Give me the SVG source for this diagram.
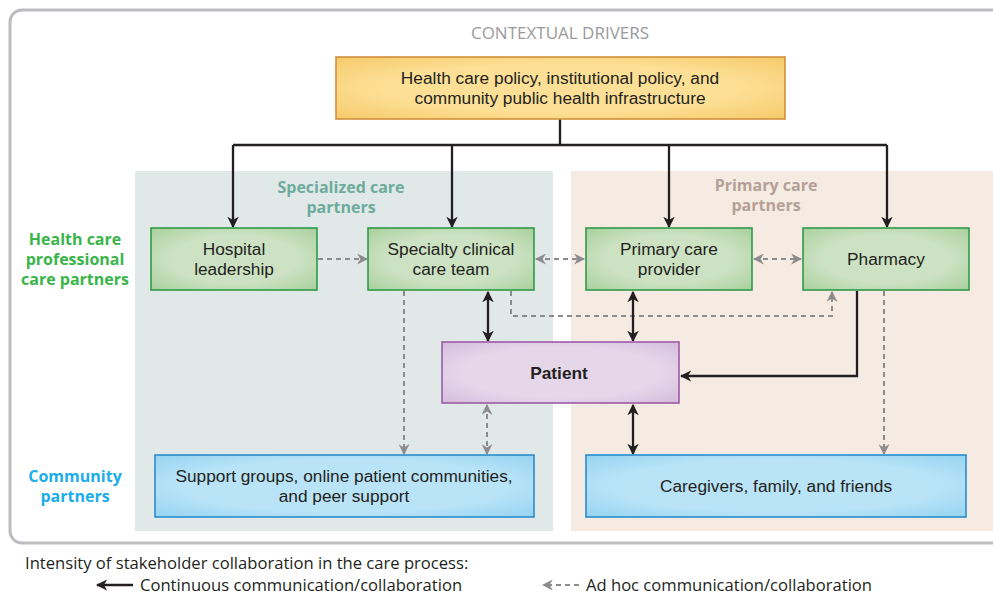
<svg xmlns="http://www.w3.org/2000/svg" width="993" height="595" viewBox="0 0 993 595">
  <defs>
    <style>
      text { font-family: "Open Sans", "Liberation Sans", sans-serif; }
      .node text { font-family: "Liberation Sans", Arial, sans-serif; font-size: 17.3px; fill: #231f20; text-anchor: middle; }
      .green rect { fill: url(#gGreen); stroke: #2f9a48; stroke-width: 1.6; }
      .blue rect { fill: url(#gBlue); stroke: #2a8ccf; stroke-width: 1.6; }
      .solid { fill: none; stroke: #231f20; stroke-width: 2.3; }
      .dash { fill: none; stroke: #8c8c8f; stroke-width: 2; stroke-dasharray: 5 4; }
      .region-label { font-size: 16px; font-weight: bold; text-anchor: middle; }
      .side-label { font-size: 16px; font-weight: bold; text-anchor: middle; }
      .legend { font-size: 16.6px; fill: #231f20; }
    </style>
    <radialGradient id="gGreen" cx="50%" cy="50%" r="70%">
      <stop offset="0.55" stop-color="#cce2c3"/>
      <stop offset="1" stop-color="#a9d09d"/>
    </radialGradient>
    <radialGradient id="gBlue" cx="50%" cy="50%" r="70%">
      <stop offset="0.6" stop-color="#b9e4f8"/>
      <stop offset="1" stop-color="#96d3f0"/>
    </radialGradient>
    <radialGradient id="gOrange" cx="50%" cy="50%" r="70%">
      <stop offset="0.55" stop-color="#fde095"/>
      <stop offset="1" stop-color="#f6c96c"/>
    </radialGradient>
    <radialGradient id="gPurple" cx="50%" cy="50%" r="70%">
      <stop offset="0.6" stop-color="#e6d6ea"/>
      <stop offset="1" stop-color="#d4bcdc"/>
    </radialGradient>
    <marker id="ahBlack" viewBox="0 0 10 10" refX="9" refY="5" markerWidth="5" markerHeight="5" orient="auto-start-reverse" markerUnits="strokeWidth">
      <path d="M0,0 L10,5 L0,10 L3,5 Z" fill="#231f20"/>
    </marker>
    <marker id="ahGrey" viewBox="0 0 10 10" refX="9" refY="5" markerWidth="5.5" markerHeight="5.5" orient="auto-start-reverse" markerUnits="strokeWidth">
      <path d="M0,0 L10,5 L0,10 L3,5 Z" fill="#8c8c8f"/>
    </marker>
  </defs>

  <rect width="993" height="595" fill="#ffffff"/>

  <!-- outer frame -->
  <rect x="10" y="10" width="1010" height="533" rx="12" ry="12" fill="none" stroke="#bdbdc1" stroke-width="3"/>

  <!-- partner regions -->
  <rect x="135" y="171" width="418" height="360" fill="#e0e9e7"/>
  <rect x="571" y="171" width="422" height="360" fill="#f6ebe2"/>

  <text x="560" y="39" font-size="17" fill="#9a9a9d" text-anchor="middle">CONTEXTUAL DRIVERS</text>
  <text class="region-label" fill="#6eab9e"><tspan x="341" y="193">Specialized care</tspan><tspan x="341" y="213">partners</tspan></text>
  <text class="region-label" fill="#b3a197"><tspan x="766" y="191">Primary care</tspan><tspan x="766" y="211">partners</tspan></text>
  <text class="side-label" fill="#3ab54a"><tspan x="75" y="245">Health care</tspan><tspan x="75" y="265">professional</tspan><tspan x="75" y="285">care partners</tspan></text>
  <text class="side-label" fill="#1badea"><tspan x="75" y="482">Community</tspan><tspan x="75" y="502">partners</tspan></text>

  <!-- connectors -->
  <g id="connectors">
    <!-- policy drivers to professional partners -->
    <path class="solid" d="M560,119 V145"/>
    <path class="solid" d="M233,145 H887"/>
    <path class="solid" d="M233,145 V227" marker-end="url(#ahBlack)"/>
    <path class="solid" d="M452,145 V227" marker-end="url(#ahBlack)"/>
    <path class="solid" d="M669,145 V227" marker-end="url(#ahBlack)"/>
    <path class="solid" d="M887,145 V227" marker-end="url(#ahBlack)"/>

    <!-- ad hoc links -->
    <path class="dash" d="M318,259 H367" marker-end="url(#ahGrey)"/>
    <path class="dash" d="M536,259 H584" marker-start="url(#ahGrey)" marker-end="url(#ahGrey)"/>
    <path class="dash" d="M754,259 H801" marker-start="url(#ahGrey)" marker-end="url(#ahGrey)"/>
    <path class="dash" d="M404,291 V454" marker-end="url(#ahGrey)"/>
    <path class="dash" d="M511,291 V316 H832 V292" marker-end="url(#ahGrey)"/>
    <path class="dash" d="M884,291 V454" marker-end="url(#ahGrey)"/>
    <path class="dash" d="M487,405 V454" marker-start="url(#ahGrey)" marker-end="url(#ahGrey)"/>

    <!-- continuous links -->
    <path class="solid" d="M488,292 V341" marker-start="url(#ahBlack)" marker-end="url(#ahBlack)"/>
    <path class="solid" d="M633,292 V341" marker-start="url(#ahBlack)" marker-end="url(#ahBlack)"/>
    <path class="solid" d="M857,291 V376 H681" marker-end="url(#ahBlack)"/>
    <path class="solid" d="M633,405 V454" marker-start="url(#ahBlack)" marker-end="url(#ahBlack)"/>
  </g>

  <!-- nodes -->
  <g id="policy" class="node">
    <rect x="336" y="57" width="449" height="62" fill="url(#gOrange)" stroke="#d0913b" stroke-width="1.6"/>
    <text><tspan x="560" y="84">Health care policy, institutional policy, and</tspan><tspan x="560" y="104">community public health infrastructure</tspan></text>
  </g>
  <g id="hospital" class="node green">
    <rect x="151" y="228" width="166" height="62"/>
    <text><tspan x="234" y="255">Hospital</tspan><tspan x="234" y="275">leadership</tspan></text>
  </g>
  <g id="specialty" class="node green">
    <rect x="368" y="228" width="166" height="62"/>
    <text><tspan x="451" y="255">Specialty clinical</tspan><tspan x="451" y="275">care team</tspan></text>
  </g>
  <g id="primary" class="node green">
    <rect x="586" y="228" width="166" height="62"/>
    <text><tspan x="669" y="255">Primary care</tspan><tspan x="669" y="275">provider</tspan></text>
  </g>
  <g id="pharmacy" class="node green">
    <rect x="803" y="228" width="166" height="62"/>
    <text x="886" y="265">Pharmacy</text>
  </g>
  <g id="patient" class="node">
    <rect x="442" y="342" width="237" height="61" fill="url(#gPurple)" stroke="#9d5ba8" stroke-width="1.6"/>
    <text x="559" y="379" font-family="Open Sans, Liberation Sans, sans-serif" font-size="21.5" font-weight="bold">Patient</text>
  </g>
  <g id="support" class="node blue">
    <rect x="155" y="455" width="379" height="62"/>
    <text><tspan x="344" y="482">Support groups, online patient communities,</tspan><tspan x="344" y="502">and peer support</tspan></text>
  </g>
  <g id="caregivers" class="node blue">
    <rect x="586" y="455" width="380" height="62"/>
    <text x="776" y="492">Caregivers, family, and friends</text>
  </g>

  <!-- legend -->
  <g id="legend">
    <text class="legend" x="25" y="569">Intensity of stakeholder collaboration in the care process:</text>
    <path class="solid" d="M133,585 H97" marker-end="url(#ahBlack)"/>
    <text class="legend" x="140" y="591">Continuous communication/collaboration</text>
    <path class="dash" d="M579,585 H543" marker-end="url(#ahGrey)"/>
    <text class="legend" x="586" y="591">Ad hoc communication/collaboration</text>
  </g>
</svg>
